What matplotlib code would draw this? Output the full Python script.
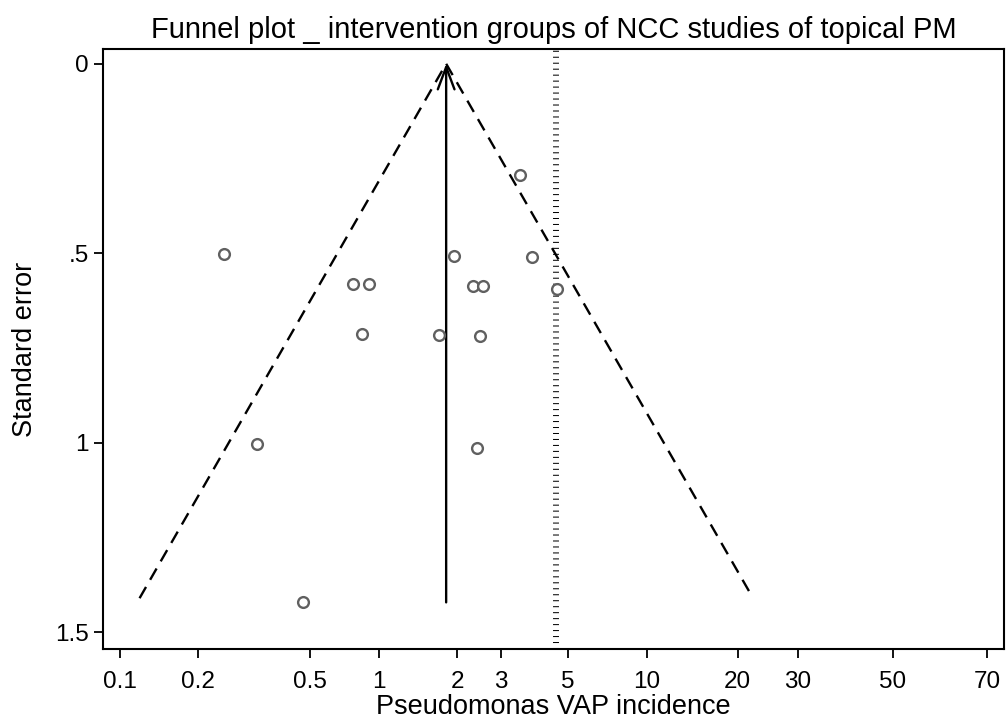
import numpy as np
import matplotlib
matplotlib.use('Agg')
import matplotlib.pyplot as plt

plt.rcParams['font.family'] = ['Liberation Sans', 'DejaVu Sans']

# Study estimates (incidence in %, standard error of logit)
incidence = [0.253, 0.340, 0.510, 0.797, 0.861, 0.921, 1.704, 1.949,
             2.303, 2.377, 2.435, 2.512, 3.455, 3.840, 4.744]
std_err = [0.503, 1.003, 1.421, 0.581, 0.712, 0.581, 0.716, 0.507,
           0.587, 1.014, 0.718, 0.587, 0.2945, 0.511, 0.593]

# Pooled estimate, pseudo 95% limits and reference line
pooled = 1.813
pooled_se_max = 1.421
funnel_x = [0.119, 1.813, 22.3]
funnel_se = [1.41, 0.0, 1.41]
ref_line = 4.70

# Axis ticks
xtick_vals = [0.1, 0.2, 0.545, 1, 2, 2.93, 5.19, 10, 20, 30, 50, 70]
xtick_labels = ['0.1', '0.2', '0.5', '1', '2', '3', '5', '10', '20', '30', '50', '70']
ytick_vals = [0, 0.5, 1, 1.5]
ytick_labels = ['0', '.5', '1', '1.5']


# logit scale for percentages
def to_logit(x):
    x = np.clip(np.asarray(x, dtype=float), 1e-6, 100 - 1e-6)
    return np.log(x / (100 - x))


def from_logit(v):
    return 100 / (1 + np.exp(-np.asarray(v, dtype=float)))


fig = plt.figure(figsize=(10.07, 7.2), dpi=100)
ax = fig.add_axes([0.1026, 0.0986, 0.8944, 0.8334])
ax.set_xscale('function', functions=(to_logit, from_logit))
ax.set_xlim(0.0861, 73.0)
ax.set_ylim(1.544, -0.039)

# Funnel limits
ax.plot(funnel_x, funnel_se, color='black', linewidth=1.7,
        linestyle=(0, (5.5, 3.5)), zorder=2)

# Pooled estimate arrow
ax.annotate('', xy=(pooled, 0), xytext=(pooled, pooled_se_max),
            arrowprops=dict(arrowstyle='->,head_length=1.6,head_width=0.6',
                            color='black', linewidth=1.7, shrinkA=0, shrinkB=0),
            zorder=3)

# Dotted reference line
ax.axvline(ref_line, color='black', linewidth=4.3,
           linestyle=(0, (0.17, 0.83)), dash_capstyle='butt', zorder=1)

# Study points
ax.scatter(incidence, std_err, s=60, facecolors='white', edgecolors='#606060',
           linewidths=1.7, zorder=4)

ax.set_xticks(xtick_vals)
ax.set_xticklabels(xtick_labels)
ax.xaxis.set_minor_locator(matplotlib.ticker.NullLocator())
ax.set_yticks(ytick_vals)
ax.set_yticklabels(ytick_labels)
ax.tick_params(axis='both', labelsize=17.5, length=6.5, width=1.3)
ax.tick_params(axis='x', pad=9)
ax.tick_params(axis='y', pad=4)

for spine in ax.spines.values():
    spine.set_linewidth(1.5)

ax.set_xlabel('Pseudomonas VAP incidence', fontsize=19.5, labelpad=1)
ax.set_ylabel('Standard error', fontsize=19.5, labelpad=12)
ax.set_title('Funnel plot _ intervention groups of NCC studies of topical PM',
             fontsize=21, pad=8)

plt.savefig('out.png', dpi=100)
